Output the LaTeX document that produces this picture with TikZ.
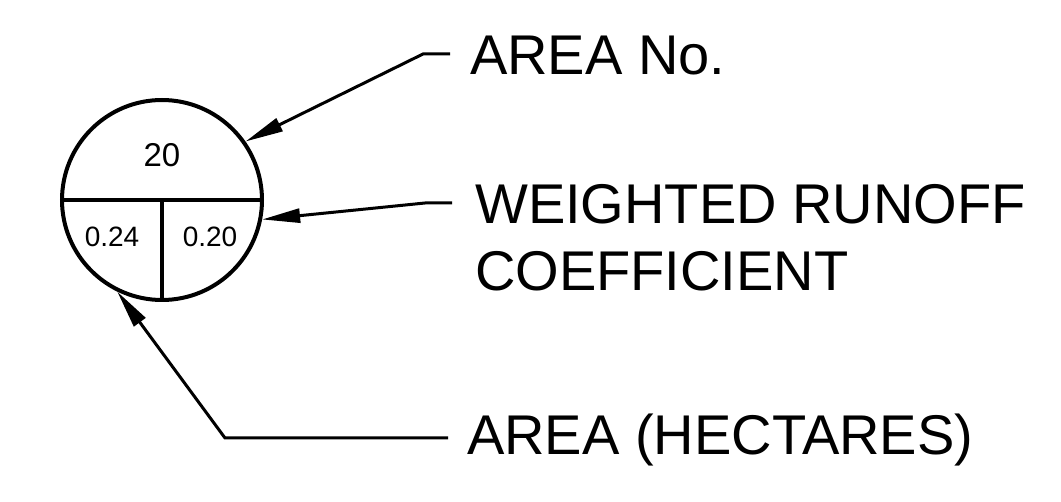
\documentclass[tikz,border=0pt]{standalone}
\usepackage{fontspec}
\setmainfont{Liberation Sans}
\usepackage{tikz}
\usetikzlibrary{arrows.meta,positioning,calc}
\tikzset{
    leader/.style={line width=3pt, -{Triangle[length=38pt,width=14pt]}},
    callout/.style={inner sep=0pt, font=\fontsize{56}{67}\selectfont},
    cellnum/.style={inner sep=0pt}
}

\begin{document}
\begin{tikzpicture}[x=1pt, y=-1pt]
    \useasboundingbox (0,0) rectangle (1061,502);

    % Circle symbol
    \node [draw, circle, line width=4pt, minimum size=200pt, inner sep=0pt] (symb) at (162,200) {};
    \draw [line width=3.5pt] (symb.west) -- (symb.east);
    \draw [line width=3.5pt] (symb.center) -- (symb.south);

    % Values inside
    \node [cellnum, font=\fontsize{33}{40}\selectfont] (areano) at (162,155) {20};
    \node [cellnum, font=\fontsize{28}{34}\selectfont] (hect) at (112,237) {0.24};
    \node [cellnum, font=\fontsize{28}{34}\selectfont] (coef) at (210,237) {0.20};

    % Callout texts
    \node [callout, anchor=base west] (lblno) at (470,75) {AREA No.};
    \node [callout, anchor=north west, align=left] (lblcoef) at (475,184) {WEIGHTED RUNOFF\\COEFFICIENT};
    \node [callout, anchor=base west] (lblhect) at (467,455) {AREA (HECTARES)};

    % Leader points
    \coordinate (sno) at (450,54);
    \coordinate (kno) at (423,54);
    \coordinate (scoef) at (452,203);
    \coordinate (kcoef) at (425,203);
    \coordinate (shect) at (448,438);
    \coordinate (khect) at (225,438);

    % Leaders
    \draw [leader] (sno) -- (kno) -- (symb.35);
    \draw [leader] (scoef) -- (kcoef) -- (symb.-11);
    \draw [leader] (shect) -- (khect) -- (symb.-116);

\end{tikzpicture}
\end{document}
